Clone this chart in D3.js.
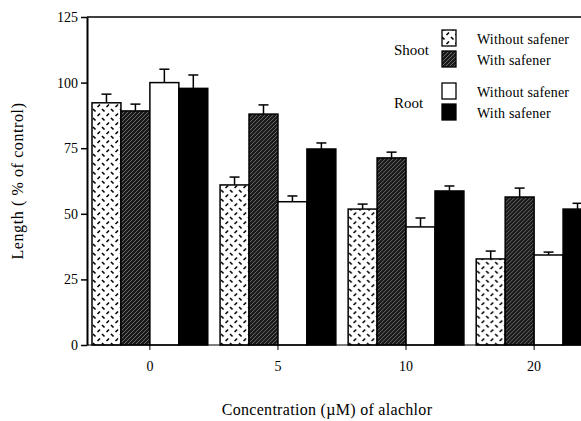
<!DOCTYPE html>
<html>
<head>
<meta charset="utf-8">
<script src="https://cdn.jsdelivr.net/npm/d3@7"></script>
<style>
  body { margin: 0; background: #fff; }
  svg { display: block; font-family: "Liberation Serif", "DejaVu Serif", serif; }
</style>
</head>
<body>
<svg id="chart" width="581" height="421"></svg>
<script>
// concentrations (uM) of alachlor
var concentrations = ['0', '5', '10', '20'];
var seriesNames = ['Shoot without safener', 'Shoot with safener', 'Root without safener', 'Root with safener'];

// mean length (% of control), one array per series
var shootWithout = [92.3, 61, 51.8, 32.8];
var shootWith = [89.2, 88, 71.3, 56.4];
var rootWithout = [100, 54.6, 45, 34.3];
var rootWith = [97.8, 74.7, 58.7, 51.8];

// top of the error bars
var shootWithoutErr = [95.6, 64, 53.7, 35.8];
var shootWithErr = [91.8, 91.5, 73.5, 59.8];
var rootWithoutErr = [105.1, 56.8, 48.4, 35.4];
var rootWithErr = [102.9, 77, 60.6, 54];

var yTicks = [0, 25, 50, 75, 100, 125];

var values = [shootWithout, shootWith, rootWithout, rootWith];
var errors = [shootWithoutErr, shootWithErr, rootWithoutErr, rootWithErr];
var fills = ['url(#dash)', 'url(#hatch)', '#fff', '#000'];

var svg = d3.select('#chart');

// patterns for the shoot bars
var defs = svg.append('defs');
var dash = defs.append('pattern')
    .attr('id', 'dash')
    .attr('patternUnits', 'userSpaceOnUse')
    .attr('width', 9)
    .attr('height', 9);
dash.append('rect').attr('width', 9).attr('height', 9).attr('fill', '#fff');
dash.append('line').attr('x1', 1).attr('y1', 1).attr('x2', 3.5).attr('y2', 3.5)
    .attr('stroke', '#000').attr('stroke-width', 1.6);
dash.append('line').attr('x1', 5.5).attr('y1', 8).attr('x2', 8).attr('y2', 5.5)
    .attr('stroke', '#000').attr('stroke-width', 1.6);

var hatch = defs.append('pattern')
    .attr('id', 'hatch')
    .attr('patternUnits', 'userSpaceOnUse')
    .attr('width', 4)
    .attr('height', 4);
hatch.append('rect').attr('width', 4).attr('height', 4).attr('fill', '#1a1a1a');
hatch.append('path').attr('d', 'M-1,5 L5,-1 M-1,1 L1,-1 M3,5 L5,3')
    .attr('stroke', '#8a8a8a').attr('stroke-width', 0.7);

var plotLeft = 87, plotRight = 581, plotTop = 17, plotBottom = 345;

var x = d3.scaleBand()
    .domain(concentrations)
    .range([plotLeft + 5, plotLeft + 5 + 125 * 4])
    .paddingInner(12 / 125)
    .paddingOuter(0);

var xs = d3.scaleBand()
    .domain(d3.range(4))
    .range([0, x.bandwidth()]);

var y = d3.scaleLinear()
    .domain([0, 125])
    .range([plotBottom, plotTop]);

// bars
var groups = svg.selectAll('g.group')
    .data(concentrations)
    .enter().append('g')
    .attr('class', 'group')
    .attr('transform', function(d) { return 'translate(' + x(d) + ',0)'; });

groups.each(function(c, gi) {
  var g = d3.select(this);
  for (var s = 0; s < 4; s++) {
    var bx = xs(s), bw = xs.bandwidth();
    var cx = bx + bw / 2;
    // error bar (only the upper whisker)
    g.append('line')
      .attr('x1', cx).attr('x2', cx)
      .attr('y1', y(values[s][gi])).attr('y2', y(errors[s][gi]))
      .attr('stroke', '#000').attr('stroke-width', 1.5);
    g.append('line')
      .attr('x1', cx - 5).attr('x2', cx + 5)
      .attr('y1', y(errors[s][gi])).attr('y2', y(errors[s][gi]))
      .attr('stroke', '#000').attr('stroke-width', 1.5);
    g.append('rect')
      .attr('x', bx)
      .attr('y', y(values[s][gi]))
      .attr('width', bw)
      .attr('height', y(0) - y(values[s][gi]))
      .attr('fill', fills[s])
      .attr('stroke', '#000')
      .attr('stroke-width', 1.5);
  }
});

// y axis
var yAxis = svg.append('g')
    .attr('transform', 'translate(' + plotLeft + ',0)')
    .call(d3.axisLeft(y).tickValues(yTicks).tickSize(6).tickPadding(3).tickSizeOuter(0));
yAxis.select('.domain').attr('stroke-width', 2);
yAxis.selectAll('line').attr('stroke-width', 1.5);
yAxis.selectAll('text')
    .attr('font-size', 14)
    .attr('font-family', 'Liberation Serif, serif')
    .attr('fill', '#000');

// top frame line
svg.append('line')
    .attr('x1', plotLeft).attr('x2', plotRight)
    .attr('y1', plotTop).attr('y2', plotTop)
    .attr('stroke', '#000').attr('stroke-width', 1.5);

// x axis with ticks at group centres
var xAxis = svg.append('g')
    .attr('transform', 'translate(0,' + plotBottom + ')')
    .call(d3.axisBottom(x).tickSize(5).tickPadding(11).tickSizeOuter(0));
xAxis.select('.domain').attr('d', 'M' + plotLeft + ',0H' + plotRight).attr('stroke-width', 1.2);
xAxis.selectAll('text')
    .attr('font-size', 14)
    .attr('font-family', 'Liberation Serif, serif')
    .attr('fill', '#000');

// axis titles
svg.append('text')
    .attr('transform', 'translate(23,181) rotate(-90)')
    .attr('text-anchor', 'middle')
    .attr('font-size', 16)
    .attr('letter-spacing', 0.6)
    .text('Length ( % of control)');

svg.append('text')
    .attr('x', 327)
    .attr('y', 415)
    .attr('text-anchor', 'middle')
    .attr('font-size', 16)
    .attr('letter-spacing', 0.3)
    .text('Concentration (\u00b5M) of alachlor');

// legend
var legendRows = [
  { group: 'Shoot', label: 'Without safener', fill: fills[0], y: 30 },
  { group: null, label: 'With safener', fill: fills[1], y: 51 },
  { group: 'Root', label: 'Without safener', fill: fills[2], y: 83 },
  { group: null, label: 'With safener', fill: fills[3], y: 104 }
];

var legend = svg.append('g').attr('class', 'legend');
legend.selectAll('rect')
    .data(legendRows)
    .enter().append('rect')
    .attr('x', 442)
    .attr('y', function(d) { return d.y; })
    .attr('width', 14)
    .attr('height', 16)
    .attr('fill', function(d) { return d.fill; })
    .attr('stroke', '#000')
    .attr('stroke-width', 1.3);

legend.selectAll('text.item')
    .data(legendRows)
    .enter().append('text')
    .attr('class', 'item')
    .attr('x', 477)
    .attr('y', function(d) { return d.y + 14; })
    .attr('font-size', 14)
    .attr('letter-spacing', 0.2)
    .text(function(d) { return d.label; });

legend.selectAll('text.grp')
    .data(legendRows.filter(function(d) { return d.group; }))
    .enter().append('text')
    .attr('class', 'grp')
    .attr('x', 394)
    .attr('y', function(d) { return d.y + 25; })
    .attr('font-size', 15)
    .text(function(d) { return d.group; });
</script>
</body>
</html>
